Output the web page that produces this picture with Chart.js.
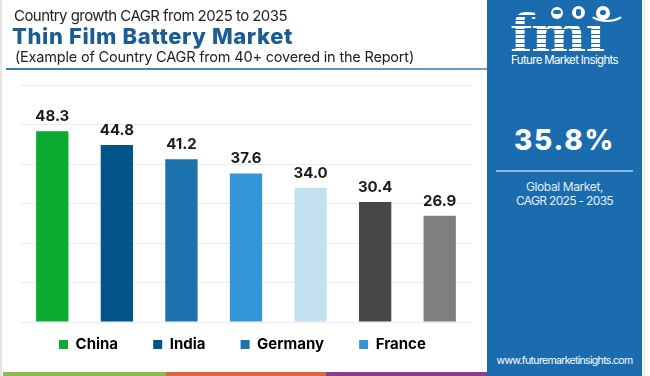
<!DOCTYPE html>
<html><head><meta charset="utf-8">
<script src="https://cdn.jsdelivr.net/npm/chart.js@4.4.0/dist/chart.umd.min.js"></script>
<style>
body{margin:0;background:#fff;}
#wrap{position:relative;width:650px;height:376px;overflow:hidden;background:#fff;font-family:Inter,sans-serif;}
.t{position:absolute;white-space:nowrap;line-height:1;}
.c{text-align:center;left:487px;width:155px;}
.dot{position:absolute;background:#fff;border-radius:50%;}
</style></head><body>
<div id="wrap">
  <div style="position:absolute;left:0;top:0;width:650px;height:376px;"><canvas id="c"></canvas></div>
  <div class="t" style="left:14px;top:8px;font-size:15px;color:#1e1e1e;"><span data-w="273">Country growth CAGR from 2025 to 2035</span></div>
  <div class="t" style="left:12px;top:25px;font-size:22px;font-weight:800;color:#1a5d96;"><span data-w="281">Thin Film Battery Market</span></div>
  <div class="t" style="left:15px;top:50px;font-size:14.5px;color:#1e1e1e;"><span data-w="399">(Example of Country CAGR from 40+ covered in the Report)</span></div>
  <div style="position:absolute;left:6px;top:68px;width:481px;height:2px;background:linear-gradient(90deg,#3a7aa6,#6a9fc0);"></div>
  <div style="position:absolute;left:0;top:0;width:2px;height:376px;background:#e4e4e4"></div>
  <div style="position:absolute;left:644px;top:0;width:1px;height:376px;background:#e4e4e4"></div>
  <div style="position:absolute;left:3px;top:372px;width:163px;height:4px;background:#8dbb4d"></div>
  <div style="position:absolute;left:166px;top:372px;width:160px;height:4px;background:#e1653a"></div>
  <div style="position:absolute;left:326px;top:372px;width:161px;height:4px;background:#8c3b90"></div>
  <div style="position:absolute;left:487px;top:0;width:155px;height:376px;background:#1b6cae;"></div>
  <div class="t" style="left:510px;top:8px;font-size:52px;font-weight:700;font-family:'DejaVu Serif',serif;color:transparent;background:repeating-linear-gradient(180deg,#fff 0px,#fff 3px,rgba(255,255,255,0) 3px,rgba(255,255,255,0) 4.5px);-webkit-background-clip:text;background-clip:text;letter-spacing:-1px;">fmı</div>
  <div class="dot" style="left:551px;top:7px;width:12px;height:12px;"></div>
  <div class="dot" style="left:572px;top:6px;width:13px;height:13px;"></div>
  <div class="dot" style="left:596px;top:6px;width:14px;height:14px;"></div>
  <div style="position:absolute;left:553px;top:10px;width:8px;height:4px;background:#1b6cae;border-radius:2px"></div>
  <div style="position:absolute;left:576px;top:9px;width:5px;height:7px;background:#1b6cae;border-radius:2px"></div>
  <div style="position:absolute;left:600px;top:10px;width:6px;height:5px;background:#1b6cae;border-radius:3px"></div>
  <div style="position:absolute;left:588px;top:0px;width:34px;height:18px;border:2px solid transparent;border-bottom-color:#fff;border-radius:50%;"></div>
  <div class="t c" style="top:55px;font-size:11.5px;color:#fff;"><span data-w="107">Future Market Insights</span></div>
  <div class="t c" style="top:126px;font-size:28px;font-weight:800;color:#fff;"><span data-w="101">35.8%</span></div>
  <div style="position:absolute;left:496px;top:170px;width:137px;height:2px;background:#86bbe3"></div>
  <div class="t c" style="top:181px;font-size:12px;color:#e6eef7;"><span data-w="77">Global Market,</span></div>
  <div class="t c" style="top:195px;font-size:12px;color:#e6eef7;"><span data-w="97">CAGR 2025 - 2035</span></div>
  <div class="t c" style="top:356px;font-size:10.5px;color:#fff;"><span data-w="136">www.futuremarketinsights.com</span></div>
</div>
<script>
const categories = ['China', 'India', 'Germany', 'France', 'UK', 'USA', 'Brazil'];
const cagrValues = [48.3, 44.8, 41.2, 37.6, 34.0, 30.4, 26.9];
const barColors = ['#0aab2f', '#04548c', '#1b72ad', '#3496d6', '#c3e1f1', '#474747', '#7f7f7f'];
const legendCount = 4;
const yTicks = [0, 10, 20, 30, 40, 50, 60];

document.querySelectorAll('[data-w]').forEach(el => {
  const target = +el.dataset.w;
  const w = el.getBoundingClientRect().width;
  const n = el.textContent.length;
  el.style.letterSpacing = ((target - w) / n) + 'px';
});

const valueLabels = {
  id: 'valueLabels',
  afterDatasetsDraw(chart) {
    const ctx = chart.ctx;
    const meta = chart.getDatasetMeta(0);
    ctx.save();
    ctx.font = '700 15px Inter';
    ctx.fillStyle = '#1a1a1a';
    ctx.textAlign = 'center';
    ctx.textBaseline = 'alphabetic';
    meta.data.forEach((bar, i) => {
      ctx.fillText(cagrValues[i].toFixed(1), bar.x, bar.y - 10);
    });
    ctx.restore();
  }
};

const legendGap = '     \u2009';
const legendEndGap = '  ';

new Chart(document.getElementById('c'), {
  type: 'bar',
  data: {
    labels: categories,
    datasets: [{ data: cagrValues, backgroundColor: barColors, borderWidth: 0, categoryPercentage: 1.0, barPercentage: 0.5 }]
  },
  options: {
    responsive: true, maintainAspectRatio: false, animation: false, devicePixelRatio: 1,
    layout: { padding: { left: 20, right: 178, top: 85, bottom: 14 } },
    scales: {
      x: { display: false },
      y: {
        min: yTicks[0], max: yTicks[yTicks.length - 1],
        afterBuildTicks(scale) { scale.ticks = yTicks.map(v => ({ value: v })); },
        ticks: { display: false },
        border: { display: false },
        grid: { color: '#ececec', lineWidth: 1, drawTicks: false }
      }
    },
    plugins: {
      tooltip: { enabled: false },
      legend: {
        position: 'bottom',
        onClick: null,
        labels: {
          boxWidth: 9, boxHeight: 9, padding: 15, color: '#111',
          font: { family: 'Inter', size: 15, weight: '700' },
          generateLabels() {
            return categories.slice(0, legendCount).map((c, i) => ({
              text: c + (i < legendCount - 1 ? legendGap : legendEndGap),
              fillStyle: barColors[i], strokeStyle: barColors[i], lineWidth: 0,
              hidden: false, index: i, datasetIndex: 0
            }));
          }
        }
      }
    }
  },
  plugins: [valueLabels]
});
</script>
</body></html>
